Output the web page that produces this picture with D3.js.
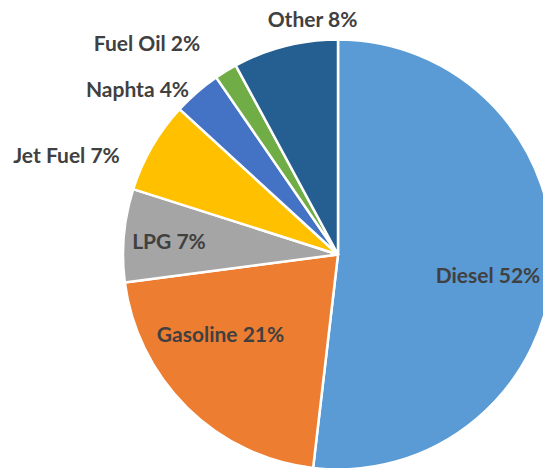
<!DOCTYPE html>
<html>
<head>
<meta charset="utf-8">
<script src="https://cdn.jsdelivr.net/npm/d3@7"></script>
<style>
    html, body { margin: 0; padding: 0; background: #fff; }
    svg { display: block; }
</style>
</head>
<body>
<div id="chart"></div>
<script>
// Fuel shares (clockwise from 12 o'clock)
const fuels = ['Diesel', 'Gasoline', 'LPG', 'Jet Fuel', 'Naphta', 'Fuel Oil', 'Other'];
const shares = [51.9, 21.1, 7.0, 6.9, 3.6, 1.7, 7.9];
const colors = ['#5b9bd5', '#ed7d31', '#a5a5a5', '#ffc000', '#4472c4', '#70ad47', '#255e91'];

// label anchors relative to the pie centre (middle x, baseline y)
const labelOffsets = [
    [150, 28.5], [-117.5, 87], [-169, -5.5], [-271.5, -91.5],
    [-200.5, -157.5], [-191, -204], [-25.5, -227.5]
];

const width = 543, height = 468;
const cx = 338, cy = 254.5, radius = 215;

const svg = d3.select('#chart')
    .append('svg')
    .attr('width', width)
    .attr('height', height);

const g = svg.append('g')
    .attr('transform', `translate(${cx},${cy})`);

const rows = fuels.map((name, i) => ({ name, value: shares[i], color: colors[i], offset: labelOffsets[i] }));

const pie = d3.pie()
    .sort(null)
    .value(d => d.value);

const arc = d3.arc()
    .innerRadius(0)
    .outerRadius(radius);

const total = d3.sum(shares);

g.selectAll('.slice')
    .data(pie(rows))
    .enter()
    .append('path')
    .attr('class', 'slice')
    .attr('d', arc)
    .attr('fill', d => d.data.color)
    .attr('stroke', '#fff')
    .attr('stroke-width', 2.5)
    .attr('stroke-linejoin', 'round');

g.selectAll('.label')
    .data(rows)
    .enter()
    .append('text')
    .attr('class', 'label')
    .attr('x', d => d.offset[0])
    .attr('y', d => d.offset[1])
    .attr('text-anchor', 'middle')
    .style('font-family', 'Lato, "Open Sans", sans-serif')
    .style('font-weight', 'bold')
    .style('font-size', '21px')
    .style('fill', '#404040')
    .text(d => `${d.name} ${Math.round(d.value / total * 100)}%`);
</script>
</body>
</html>
